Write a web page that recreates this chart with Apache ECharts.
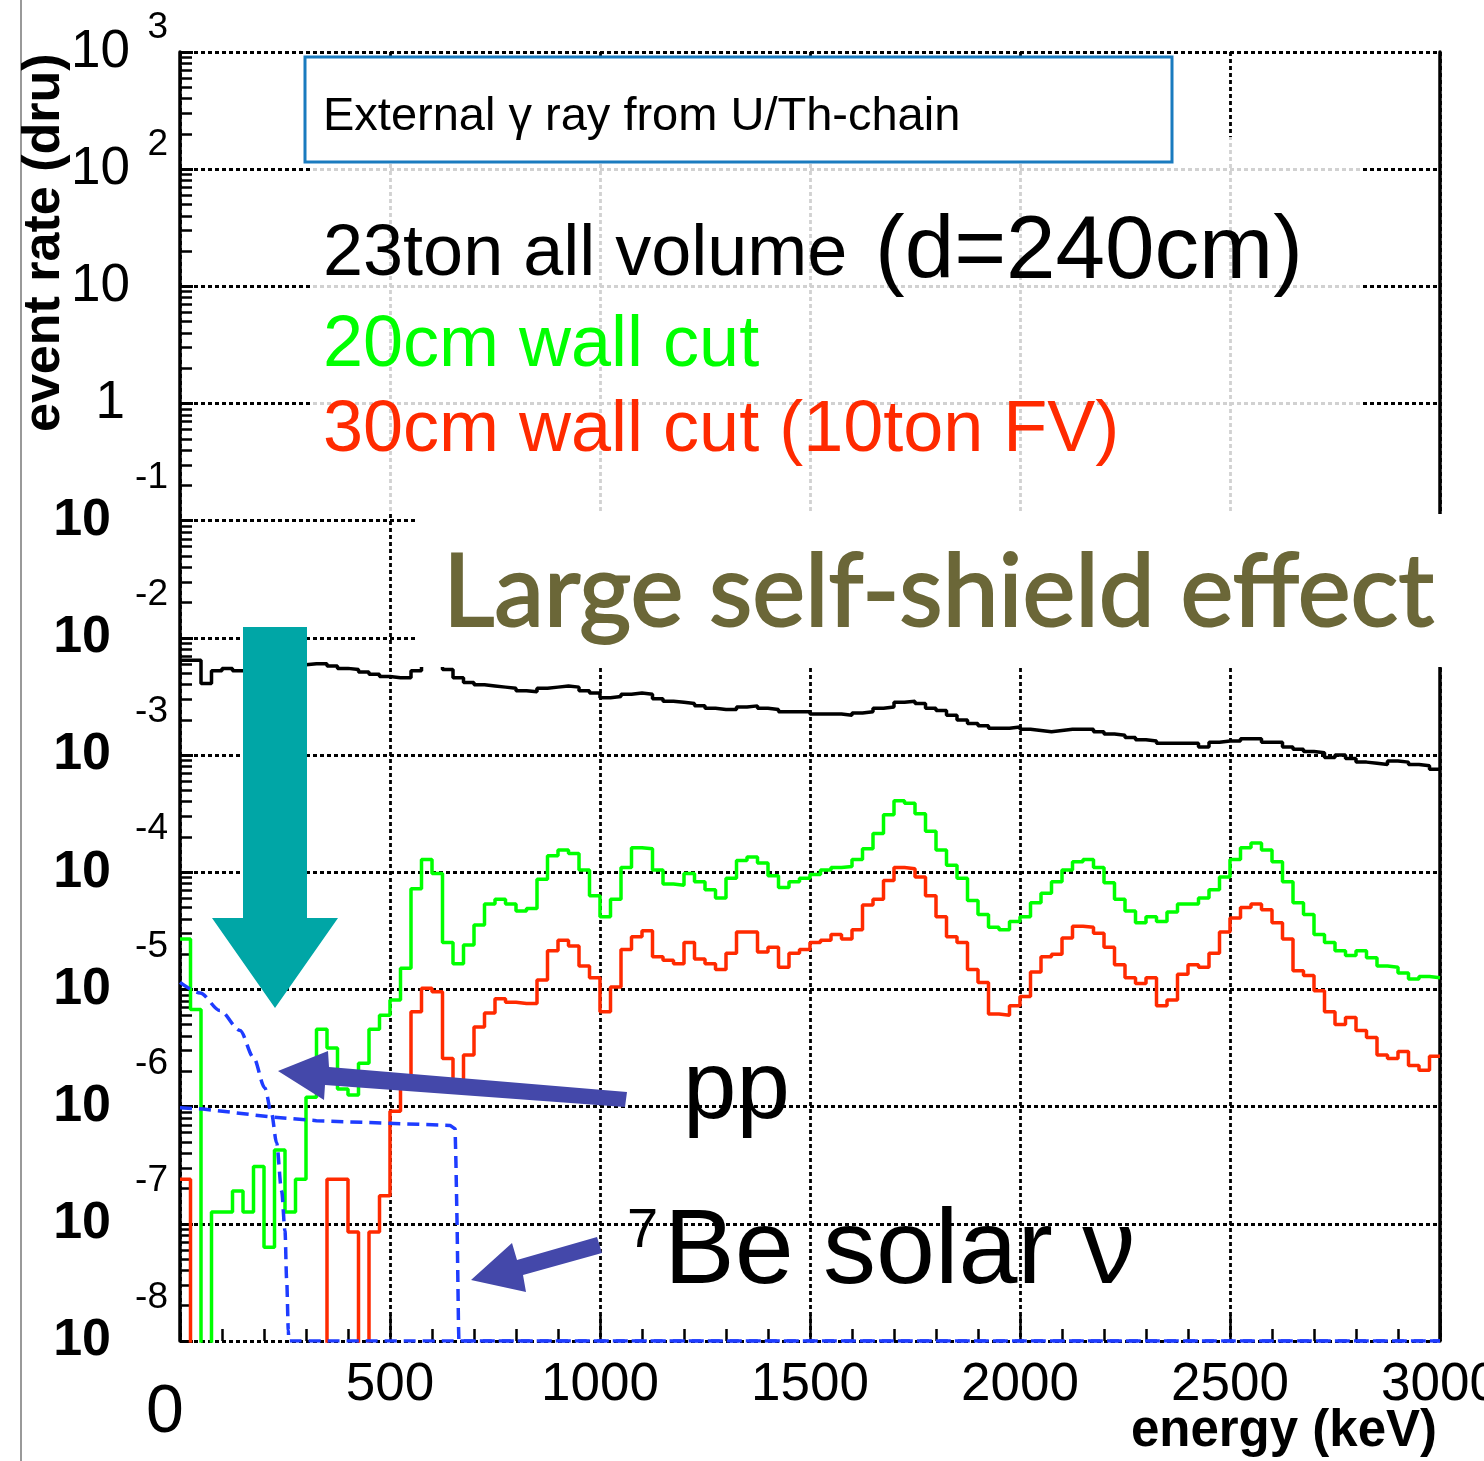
<!DOCTYPE html>
<html>
<head>
<meta charset="utf-8">
<script src="https://cdn.jsdelivr.net/npm/echarts@6/dist/echarts.min.js"></script>
<style>
  html, body { margin: 0; padding: 0; background: #fff; }
  #chart { width: 1484px; height: 1461px; }
</style>
</head>
<body>
<div id="chart"></div>
<script>
// histogram binning: 0 - 3000 keV in 25 keV bins
const binWidth = 25;

// log10(event rate / dru) per bin, null = empty bin
const lgAllVolume = [
  -2.19, -2.19, -2.39, -2.28, -2.26, -2.28, -2.27, -2.26, -2.25, -2.24,
  -2.24, -2.23, -2.22, -2.22, -2.24, -2.26, -2.27, -2.29, -2.31, -2.33,
  -2.34, -2.34, -2.28, -2.19, -2.21, -2.27, -2.34, -2.38, -2.40, -2.41,
  -2.42, -2.43, -2.45, -2.46, -2.43, -2.42, -2.41, -2.42, -2.45, -2.47,
  -2.51, -2.50, -2.48, -2.47, -2.48, -2.52, -2.54, -2.55, -2.56, -2.58,
  -2.60, -2.61, -2.61, -2.59, -2.58, -2.60, -2.61, -2.63, -2.63, -2.63,
  -2.65, -2.65, -2.65, -2.66, -2.64, -2.63, -2.60, -2.59, -2.55, -2.54,
  -2.56, -2.60, -2.62, -2.66, -2.70, -2.73, -2.75, -2.77, -2.77, -2.76,
  -2.78, -2.79, -2.80, -2.79, -2.78, -2.78, -2.78, -2.80, -2.82, -2.83,
  -2.85, -2.87, -2.88, -2.90, -2.90, -2.90, -2.90, -2.93, -2.89, -2.88,
  -2.88, -2.86, -2.86, -2.89, -2.89, -2.93, -2.95, -2.97, -2.98, -3.02,
  -3.00, -3.03, -3.06, -3.07, -3.08, -3.05, -3.06, -3.08, -3.09, -3.12
];
const lgCut20 = [
  -4.57, -5.17, null, -6.90, -6.90, -6.72, -6.90, -6.51, -7.20, -6.37,
  -6.90, -6.62, -5.92, -5.34, -5.50, -5.85, -5.90, -5.63, -5.34, -5.22,
  -5.09, -4.82, -4.14, -3.89, -4.01, -4.60, -4.78, -4.62, -4.45, -4.27,
  -4.23, -4.27, -4.33, -4.31, -4.06, -3.86, -3.81, -3.84, -3.98, -4.20,
  -4.38, -4.23, -3.96, -3.79, -3.80, -3.98, -4.10, -4.11, -4.01, -4.08,
  -4.15, -4.22, -4.05, -3.90, -3.87, -3.92, -4.03, -4.13, -4.08, -4.05,
  -4.02, -3.98, -3.96, -3.95, -3.89, -3.80, -3.67, -3.51, -3.39, -3.41,
  -3.50, -3.65, -3.81, -3.94, -4.05, -4.24, -4.36, -4.47, -4.49, -4.42,
  -4.38, -4.26, -4.18, -4.08, -3.98, -3.91, -3.89, -3.96, -4.09, -4.23,
  -4.33, -4.43, -4.38, -4.42, -4.34, -4.27, -4.27, -4.22, -4.15, -4.04,
  -3.89, -3.79, -3.75, -3.81, -3.91, -4.08, -4.26, -4.36, -4.53, -4.60,
  -4.67, -4.71, -4.67, -4.73, -4.80, -4.81, -4.86, -4.91, -4.89, -4.90
];
const lgCut30 = [
  -6.62, null, null, null, null, null, null, null, null, null,
  null, null, null, null, -6.62, -6.62, -7.07, null, -7.07, -6.76,
  -6.04, -5.82, -5.19, -4.99, -5.02, -5.59, -5.78, -5.56, -5.32, -5.20,
  -5.08, -5.11, -5.12, -5.12, -4.92, -4.67, -4.58, -4.63, -4.80, -4.90,
  -5.19, -4.98, -4.66, -4.55, -4.50, -4.72, -4.75, -4.78, -4.60, -4.74,
  -4.78, -4.83, -4.69, -4.51, -4.51, -4.68, -4.64, -4.81, -4.69, -4.66,
  -4.60, -4.58, -4.53, -4.57, -4.49, -4.28, -4.23, -4.07, -3.96, -3.97,
  -4.04, -4.20, -4.38, -4.55, -4.60, -4.83, -4.94, -5.21, -5.22, -5.14,
  -5.06, -4.85, -4.72, -4.70, -4.56, -4.46, -4.47, -4.52, -4.64, -4.79,
  -4.90, -4.95, -4.90, -5.14, -5.09, -4.87, -4.79, -4.81, -4.69, -4.51,
  -4.39, -4.30, -4.27, -4.32, -4.43, -4.57, -4.84, -4.88, -5.01, -5.19,
  -5.30, -5.24, -5.35, -5.41, -5.56, -5.59, -5.53, -5.65, -5.69, -5.57
];

// solar neutrino recoil spectra (keV, log10 dru)
const ppEnergy = [0, 48, 95, 143, 175, 202, 218, 230, 242, 250, 254, 258, 259, 3000];
const ppLg = [-4.94, -5.03, -5.18, -5.35, -5.58, -5.84, -6.06, -6.31, -6.72, -7.06, -7.48, -7.91, -8, -8];
const be7Energy = [0, 55, 127, 221, 325, 483, 643, 655, 657, 660, 663, 664, 3000];
const be7Lg = [-6.01, -6.02, -6.05, -6.09, -6.12, -6.14, -6.16, -6.19, -6.48, -7.06, -7.85, -8, -8];

// axis ranges
const lgMin = -8, lgMax = 3;
const emptyLg = -9;   // empty bins fall below the frame
const minorMultipliers = [2, 3, 4, 5, 6, 7, 8, 9];

const font = '"Liberation Sans", Arial, sans-serif';

function histData(lg) {
  const pts = lg.map((v, i) => [i * binWidth, v == null ? emptyLg : v]);
  const last = lg[lg.length - 1];
  pts.push([lg.length * binWidth, last == null ? emptyLg : last]);
  return pts;
}

const minorTicks = [];
for (let d = lgMin; d < lgMax; d++) {
  minorMultipliers.forEach(m => minorTicks.push(d + Math.log10(m)));
}

function yLabel(v) {
  if (v >= 2) return '{ep|' + v + '}\n{b|10}{sp|}\n{gp| }';
  if (v === 1) return '{b1|10}{sp|}';
  if (v === 0) return '{b1|1}{sp1|}';
  return '{en|' + v + '}\n{bn|10}{sn|}\n{gn| }';
}

const dotted = { color: '#000', width: 2.8, type: [4, 3] };

const chart = echarts.init(document.getElementById('chart'));

const option = {
  animation: false,
  backgroundColor: '#fff',
  grid: { left: 180, right: 44, top: 52, bottom: 120, containLabel: false, outerBoundsMode: 'none' },
  xAxis: {
    type: 'value', min: 0, max: 3000, interval: 500,
    axisLine: { show: false, onZero: false },
    axisTick: { show: true, inside: true, length: 26, lineStyle: { color: '#000', width: 2.5 } },
    minorTick: { show: true, splitNumber: 5, length: 12, lineStyle: { color: '#000', width: 2.5 } },
    splitLine: { show: true, lineStyle: dotted },
    axisLabel: {
      margin: 18,
      formatter: v => v === 0 ? '{z|0}' : '{n|' + v + '}',
      rich: {
        n: { fontSize: 53, fontFamily: font, color: '#000', lineHeight: 53 },
        z: { fontSize: 68, fontFamily: font, color: '#000', lineHeight: 68, padding: [40, 30, 0, 0] }
      }
    }
  },
  yAxis: [
    {
      type: 'value', min: lgMin, max: lgMax, interval: 1, position: 'left',
      axisLine: { show: true, onZero: false, lineStyle: { color: '#000', width: 3.5 } },
      axisTick: { show: true, inside: true, length: 13, lineStyle: { color: '#000', width: 3 } },
      splitLine: { show: true, lineStyle: dotted },
      axisLabel: {
        margin: 12, align: 'right',
        formatter: yLabel,
        rich: {
          ep: { fontSize: 37, fontFamily: font, color: '#000', lineHeight: 18 },
          en: { fontSize: 37, fontFamily: font, color: '#000', lineHeight: 40 },
          b: { fontSize: 53, fontFamily: font, color: '#000', lineHeight: 30 },
          b1: { fontSize: 53, fontFamily: font, color: '#000', lineHeight: 53 },
          bn: { fontSize: 52, fontFamily: font, fontWeight: 'bold', color: '#000', lineHeight: 46 },
          sp: { width: 38 },
          sp1: { width: 43 },
          sn: { width: 57 },
          gp: { fontSize: 10, lineHeight: 18 },
          gn: { fontSize: 10, lineHeight: 40 }
        }
      }
    },
    {
      // minor ticks 2..9 x 10^n
      type: 'value', min: lgMin, max: lgMax, position: 'left',
      axisLine: { show: false, onZero: false },
      axisLabel: { show: false },
      splitLine: { show: false },
      axisTick: { show: true, inside: true, length: 12, customValues: minorTicks, lineStyle: { color: '#000', width: 2.5 } }
    },
    {
      // right frame
      type: 'value', min: lgMin, max: lgMax, position: 'right',
      axisLine: { show: true, onZero: false, lineStyle: { color: '#000', width: 3.5 } },
      axisTick: { show: false }, axisLabel: { show: false }, splitLine: { show: false }
    }
  ],
  series: [
    {
      name: '23ton all volume', type: 'line', step: 'end', symbol: 'none',
      data: histData(lgAllVolume), lineStyle: { color: '#000', width: 3.5 }, z: 3
    },
    {
      name: '20cm wall cut', type: 'line', step: 'end', symbol: 'none',
      data: histData(lgCut20), lineStyle: { color: '#00ff00', width: 3.5 }, z: 4
    },
    {
      name: '30cm wall cut', type: 'line', step: 'end', symbol: 'none',
      data: histData(lgCut30), lineStyle: { color: '#ff2a00', width: 3.5 }, z: 5
    },
    {
      name: 'pp', type: 'line', symbol: 'none', smooth: 0.3, smoothMonotone: 'x',
      data: ppEnergy.map((e, i) => [e, ppLg[i]]),
      lineStyle: { color: '#1e3cff', width: 3.5, type: [12, 7] }, z: 6
    },
    {
      name: '7Be', type: 'line', symbol: 'none',
      data: be7Energy.map((e, i) => [e, be7Lg[i]]),
      lineStyle: { color: '#1e3cff', width: 3.5, type: [12, 7] }, z: 6
    }
  ],
  graphic: [
    { type: 'line', shape: { x1: 21, y1: 0, x2: 21, y2: 1461 }, style: { stroke: '#999', lineWidth: 2 }, z: 100 },
    // veil behind the legend text
    { type: 'rect', shape: { x: 310, y: 137, width: 1050, height: 375 }, style: { fill: 'rgba(255,255,255,0.82)' }, z: 100 },
    { type: 'rect', shape: { x: 305, y: 57, width: 867, height: 105 }, style: { fill: '#fff', stroke: '#1a7bbf', lineWidth: 3 }, z: 101 },
    // white box behind the big caption
    { type: 'rect', shape: { x: 415, y: 514, width: 1031, height: 153 }, style: { fill: '#fff' }, z: 100 },
    // arrows
    {
      type: 'polygon', z: 105,
      shape: { points: [[243, 627], [307, 627], [307, 918], [338, 918], [275, 1008], [212, 918], [243, 918]] },
      style: { fill: '#00a6a6' }
    },
    {
      type: 'polygon', z: 105,
      shape: { points: [[278, 1071], [328, 1051], [329, 1067], [627, 1092], [625, 1107], [325, 1085], [324, 1100]] },
      style: { fill: '#4448aa' }
    },
    {
      type: 'polygon', z: 105,
      shape: { points: [[471, 1280], [512, 1243], [517, 1260], [597, 1237], [602, 1253], [523, 1275], [526, 1292]] },
      style: { fill: '#4448aa' }
    },
    // texts
    { type: 'text', x: 323, y: 117, z: 110, style: { text: 'External γ ray from U/Th-chain', fontSize: 47, fontFamily: font, fill: '#000', align: 'left', verticalAlign: 'middle' } },
    { type: 'text', x: 323, y: 255, z: 110, style: { text: '23ton all volume', fontSize: 72, fontFamily: font, fill: '#000', align: 'left', verticalAlign: 'middle' } },
    { type: 'text', x: 875, y: 253, z: 110, style: { text: '(d=240cm)', fontSize: 89, fontFamily: font, fill: '#000', align: 'left', verticalAlign: 'middle' } },
    { type: 'text', x: 323, y: 346, z: 110, style: { text: '20cm wall cut', fontSize: 72, fontFamily: font, fill: '#00ff00', align: 'left', verticalAlign: 'middle' } },
    { type: 'text', x: 323, y: 431, z: 110, style: { text: '30cm wall cut (10ton FV)', fontSize: 72, fontFamily: font, fill: '#ff2a00', align: 'left', verticalAlign: 'middle' } },
    {
      type: 'text', x: 443, y: 594, z: 110,
      style: {
        text: 'Large self-shield effect', fontSize: 100, fontFamily: 'Lato, "Open Sans", sans-serif', fill: '#6b6738',
        stroke: '#6b6738', lineWidth: 2,
        align: 'left', verticalAlign: 'middle',
        shadowColor: 'rgba(0,0,0,0.45)', shadowBlur: 8, shadowOffsetX: 4, shadowOffsetY: 6
      }
    },
    { type: 'text', x: 683, y: 1092, z: 110, style: { text: 'pp', fontSize: 96, fontFamily: font, fill: '#000', align: 'left', verticalAlign: 'middle' } },
    { type: 'text', x: 627, y: 1232, z: 110, style: { text: '7', fontSize: 56, fontFamily: font, fill: '#000', align: 'left', verticalAlign: 'middle' } },
    { type: 'text', x: 664, y: 1254, z: 110, style: { text: 'Be solar ν', fontSize: 106, fontFamily: font, fill: '#000', align: 'left', verticalAlign: 'middle' } },
    { type: 'text', x: 45, y: 432, rotation: Math.PI / 2, z: 110, style: { text: 'event rate (dru)', fontSize: 52, fontWeight: 'bold', fontFamily: font, fill: '#000', align: 'left', verticalAlign: 'middle' } },
    { type: 'text', x: 1437, y: 1432, z: 110, style: { text: 'energy (keV)', fontSize: 51, fontWeight: 'bold', fontFamily: font, fill: '#000', align: 'right', verticalAlign: 'middle' } }
  ]
};

chart.setOption(option);
</script>
</body>
</html>
